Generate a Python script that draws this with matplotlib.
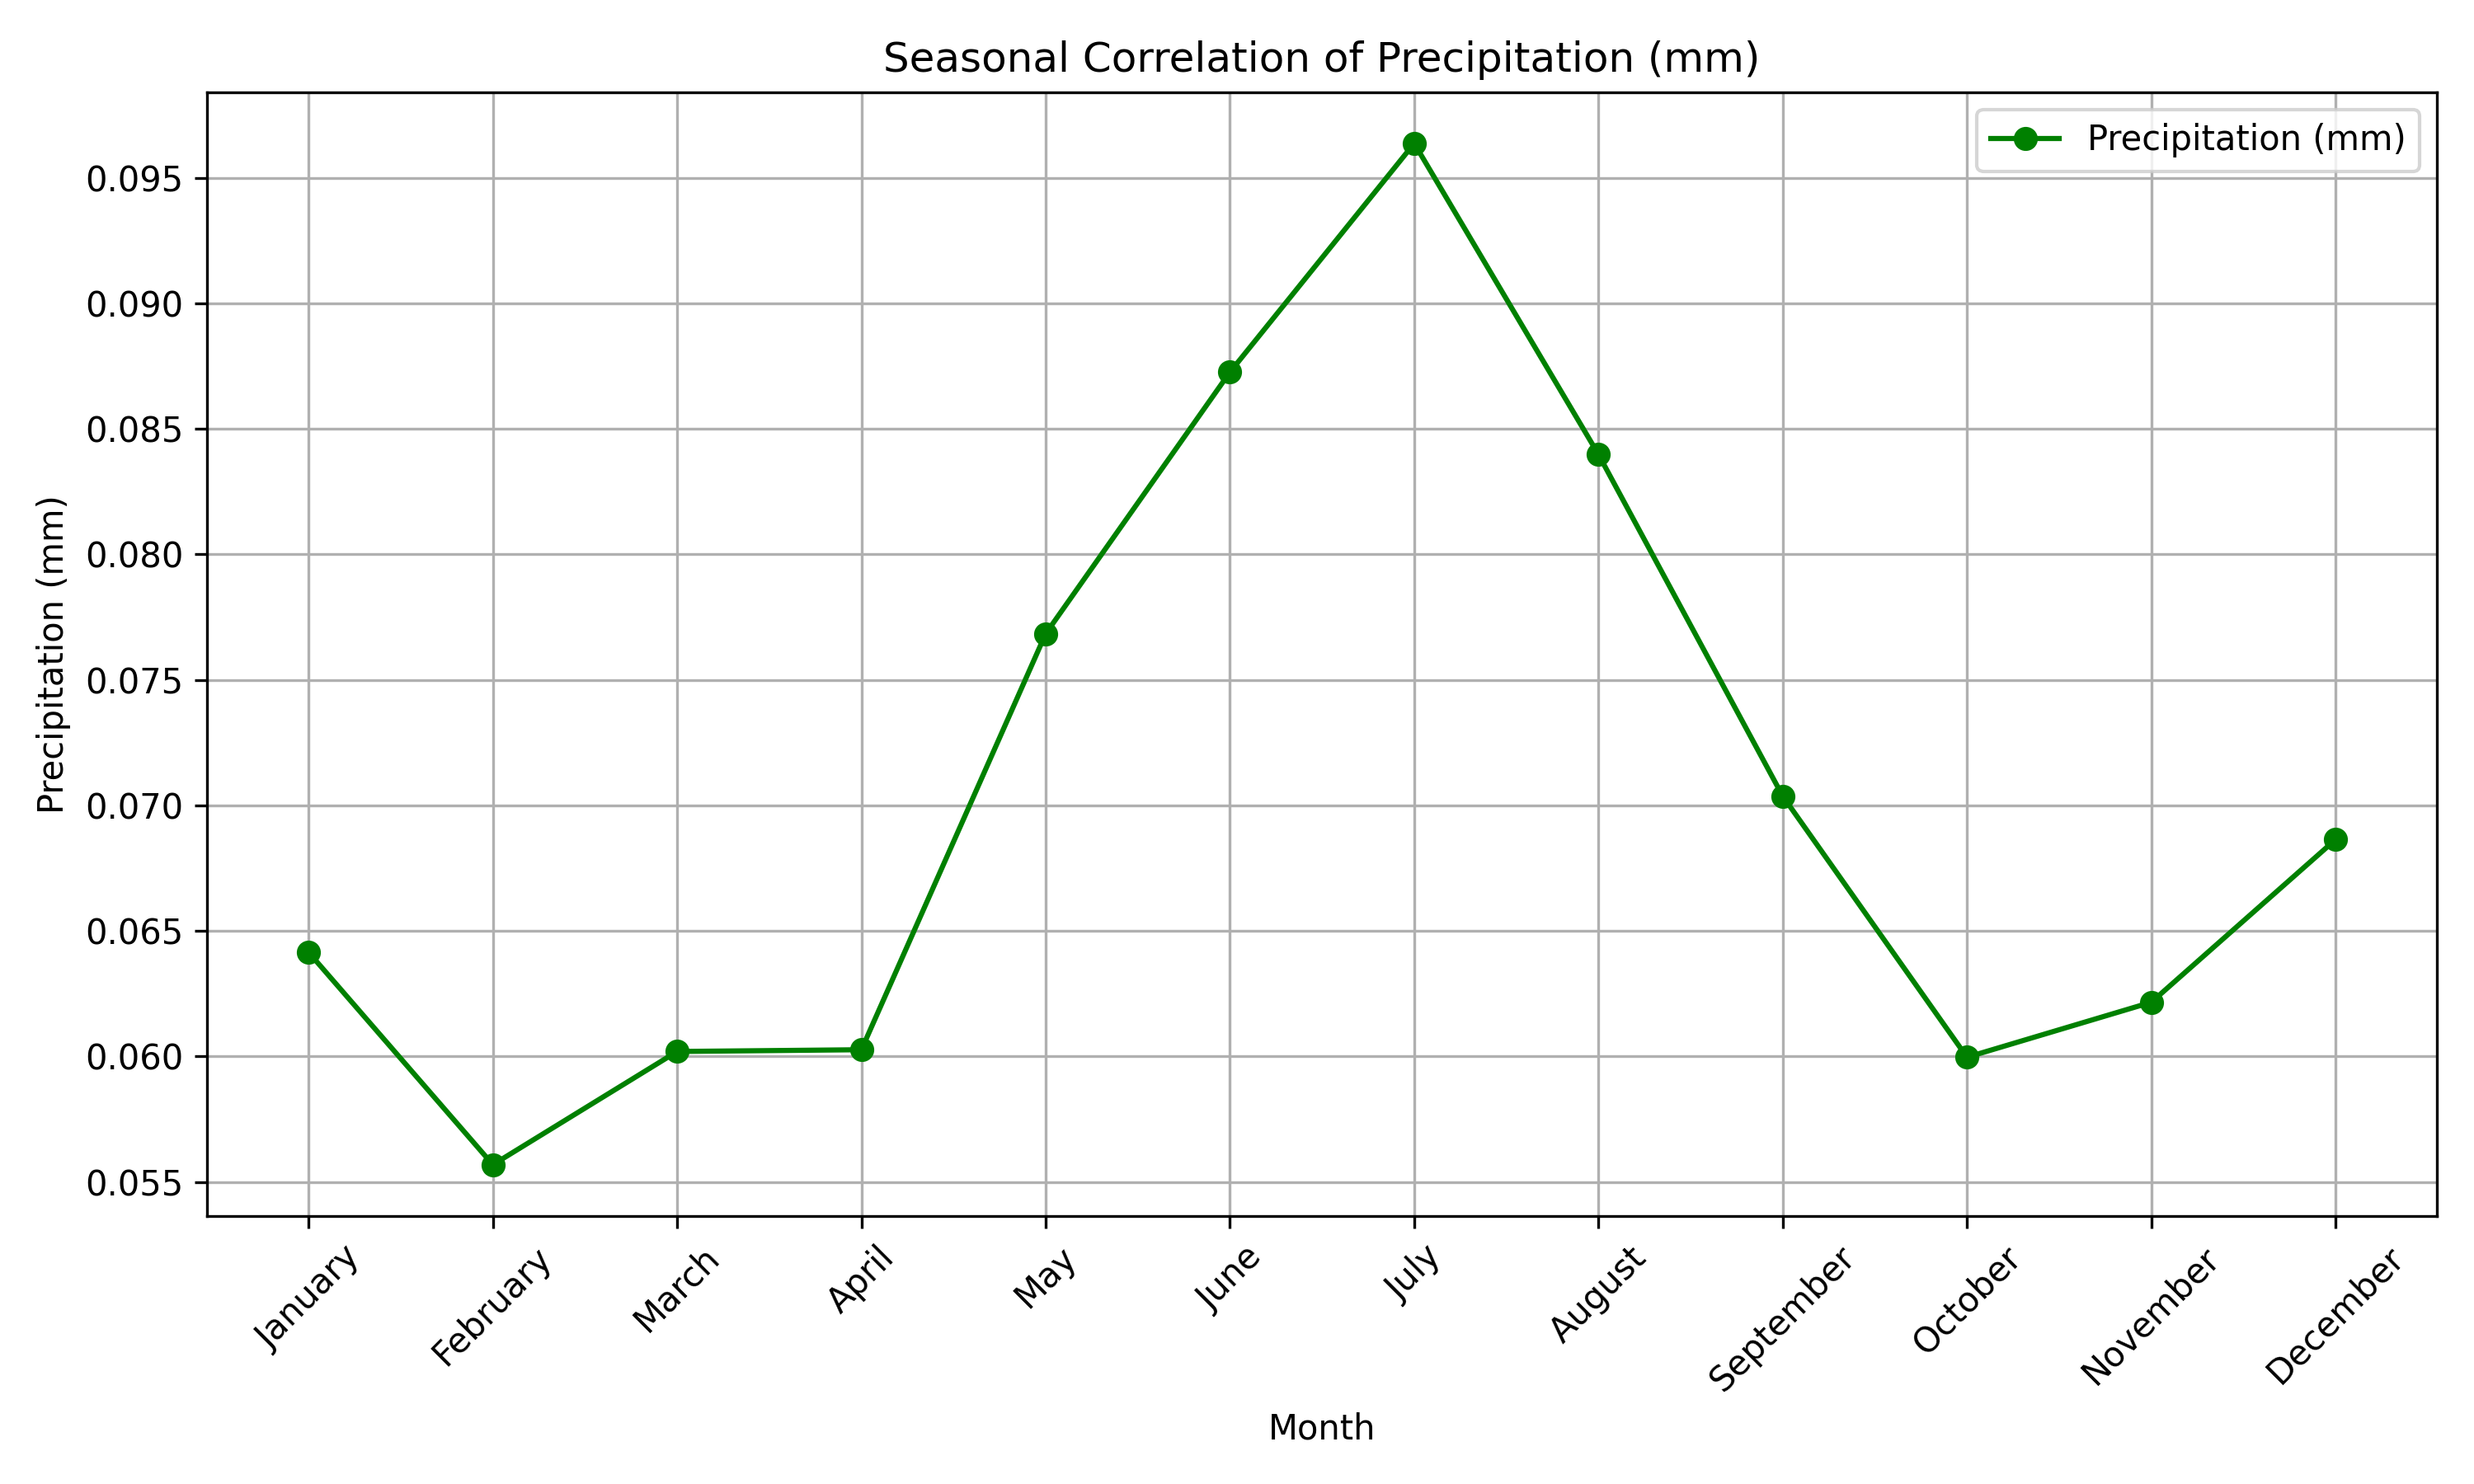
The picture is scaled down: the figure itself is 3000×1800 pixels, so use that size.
import matplotlib
matplotlib.use("Agg")
import matplotlib.pyplot as plt

months = ["January", "February", "March", "April", "May", "June",
          "July", "August", "September", "October", "November", "December"]
precip = [0.06415, 0.05569, 0.0602, 0.06027, 0.07684, 0.08726,
          0.09637, 0.08398, 0.07037, 0.05997, 0.06216, 0.06864]

fig, ax = plt.subplots(figsize=(10, 6))
ax.plot(months, precip, marker='o', color='green', label="Precipitation (mm)")
ax.set_title("Seasonal Correlation of Precipitation (mm)")
ax.set_xlabel("Month")
ax.set_ylabel("Precipitation (mm)")
plt.xticks(rotation=45)
ax.legend()
ax.grid(True)
plt.tight_layout()
plt.savefig("out.png", dpi=300)
